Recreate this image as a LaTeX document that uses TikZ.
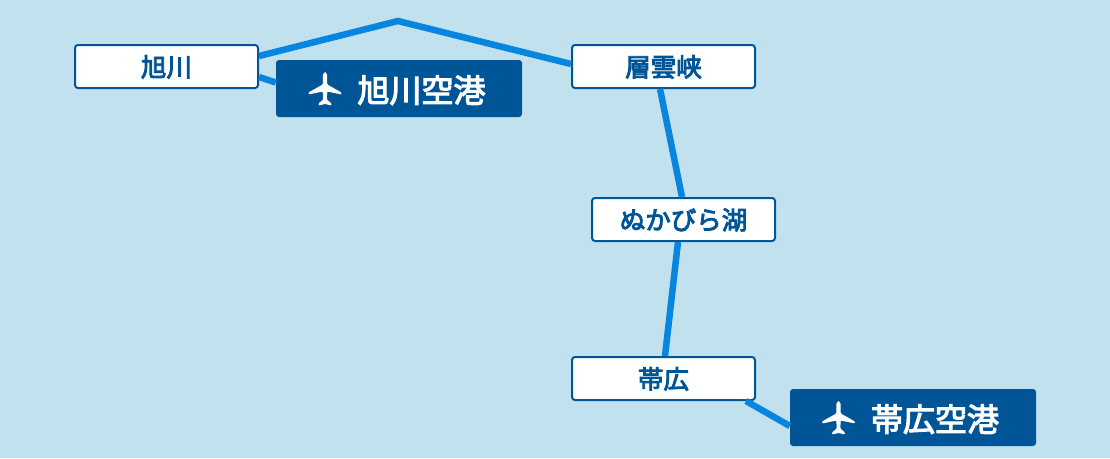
\documentclass[tikz,border=0pt]{standalone}
\usepackage{fontspec}
\newfontfamily\cjk[RawFeature={embolden=3.5}]{Noto Sans CJK JP}
\usetikzlibrary{positioning,calc}
\definecolor{skybg}{HTML}{C1E1EF}
\definecolor{routeblue}{HTML}{0885DE}
\definecolor{navy}{HTML}{005596}
\tikzset{
	route/.style={draw=routeblue,line width=6.5pt},
	stop/.style={rectangle,draw=navy,line width=2pt,fill=white,rounded corners=3pt,
		minimum width=183pt,minimum height=43pt,inner sep=0pt,text=navy,
		text height=24pt,text depth=4pt,
		font=\cjk\fontsize{25.5}{25.5}\selectfont},
	airport/.style={rectangle,fill=navy,rounded corners=3pt,minimum width=246pt,
		minimum height=57pt,inner sep=0pt,text=white,
		text height=31pt,text depth=3.6pt,
		font=\cjk\fontsize{32}{32}\selectfont},
	planeicon/.pic={
		\fill[white,rounded corners=1pt] (0,-16.5) to[out=0,in=90] (2.2,-11) -- (2.2,-5) -- (16.5,3)
			-- (16.5,5) -- (2.2,2) -- (1.8,10) -- (6.5,14) -- (6.5,16) -- (0,14.5)
			-- (-6.5,16) -- (-6.5,14) -- (-1.8,10) -- (-2.2,2) -- (-16.5,5) -- (-16.5,3)
			-- (-2.2,-5) -- (-2.2,-11) to[out=90,in=180] cycle;
	}
}
\begin{document}
\begin{tikzpicture}[x=1pt,y=-1pt]
	\useasboundingbox[fill=skybg] (0,0) rectangle (1110,458);
	
	\node[stop] (asahikawa) at (166.5,66.5) {旭川};
	\node[stop] (sounkyo) at (663.5,66.5) {層雲峡};
	\node[stop] (nukabira) at (683.5,219.5) {ぬかびら湖};
	\node[stop] (obihiro) at (663.5,378.5) {帯広};
	\node[airport] (asahiair) at (399,88.5) {\hspace*{45pt}旭川空港};
	\node[airport] (obiair) at (913,417.5) {\hspace*{44pt}帯広空港};
	\coordinate (peak) at (398,21);
	
	\path[route] ([yshift=10.5pt]asahikawa.east) -- (peak) -- ([yshift=2.5pt]sounkyo.west);
	\path[route] ([yshift=-10.5pt]asahikawa.east) -- ([yshift=6pt]asahiair.west);
	\path[route] ([xshift=-3.5pt]sounkyo.south) -- ([xshift=-1.5pt]nukabira.north);
	\path[route] ([xshift=-5.5pt]nukabira.south) -- ([xshift=1.5pt]obihiro.north);
	\path[route] ([xshift=-10pt]obihiro.south east) -- ([yshift=-8.5pt]obiair.west);
	
	\pic at ([xshift=-74pt,yshift=-1pt]asahiair.center) {planeicon};
	\pic at ([xshift=-74.5pt,yshift=-1pt]obiair.center) {planeicon};
	
\end{tikzpicture}
\end{document}
